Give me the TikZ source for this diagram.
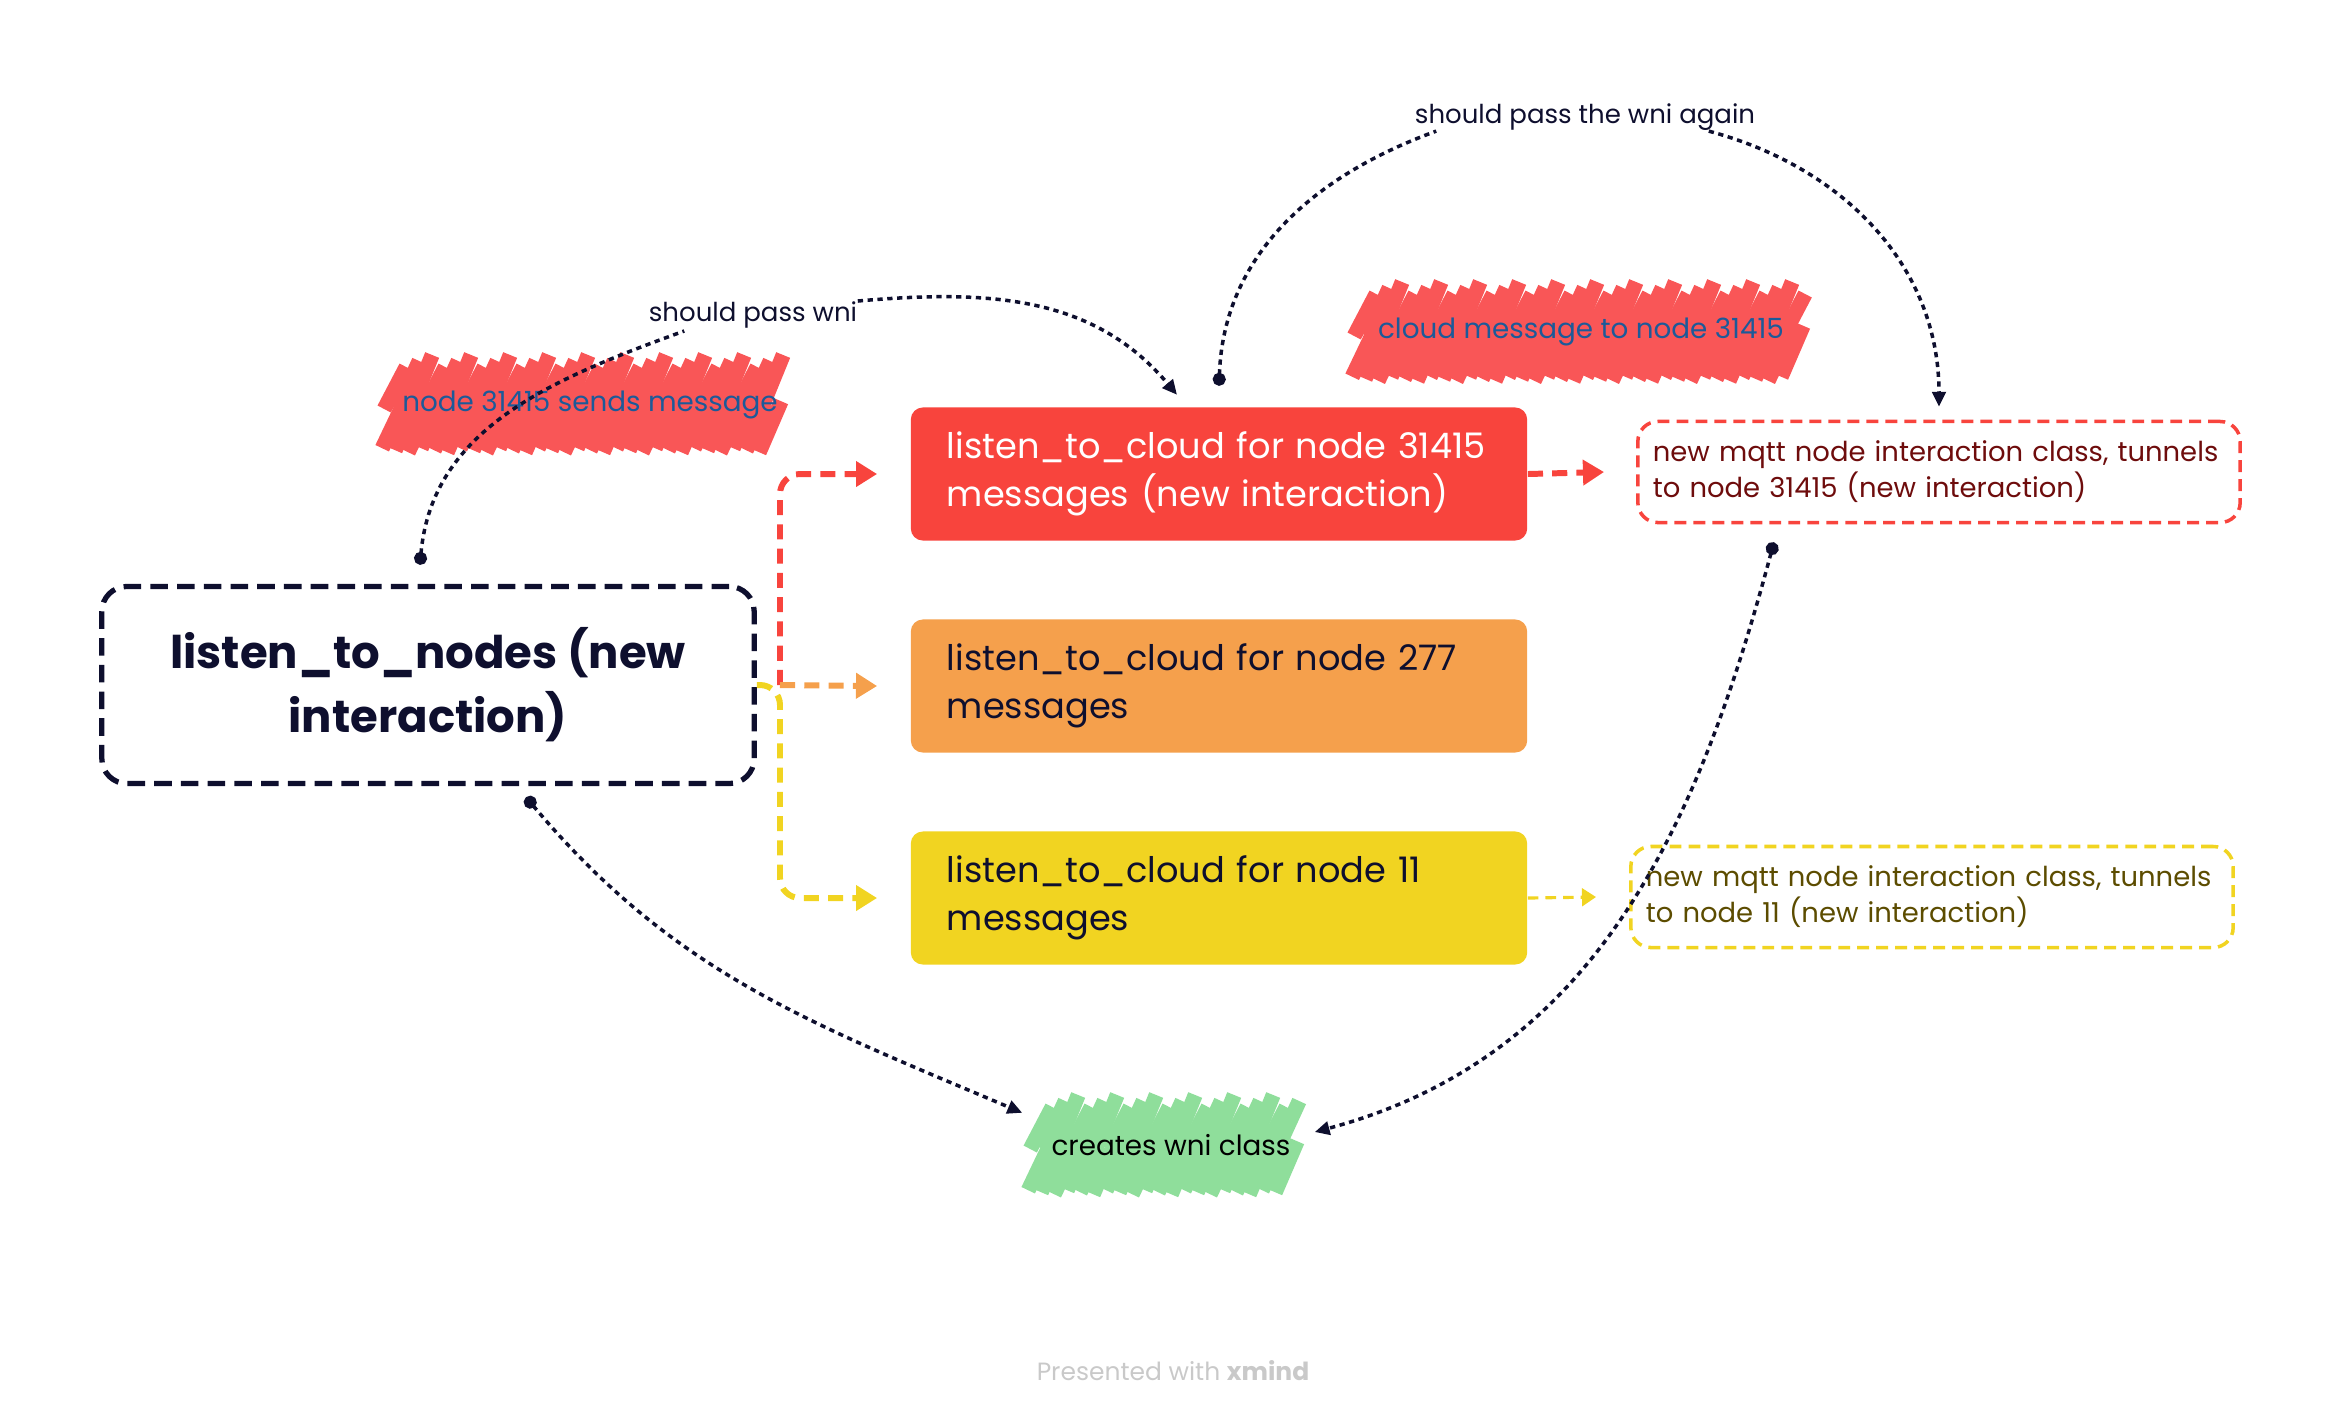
\documentclass[tikz,border=0pt]{standalone}
\usepackage{fontspec}
\setmainfont{Poppins}
\usetikzlibrary{arrows.meta,positioning,calc,backgrounds}

\definecolor{ink}{HTML}{0E0F2E}
\definecolor{cloudred}{HTML}{F8443D}
\definecolor{cloudorange}{HTML}{F5A04C}
\definecolor{cloudyellow}{HTML}{F1D421}
\definecolor{tunnelred}{HTML}{6E0C0C}
\definecolor{tunnelolive}{HTML}{5C4C00}
\definecolor{markred}{HTML}{F95657}
\definecolor{markblue}{HTML}{1C5A99}
\definecolor{markgreen}{HTML}{8FDE9B}
\definecolor{footgray}{HTML}{C9C9C9}

\tikzset{
  mainbox/.style={draw=ink, line width=1.5pt, dash pattern=on 5pt off 2.6pt,
    rounded corners=2.5mm, minimum width=6.52cm, minimum height=1.97cm,
    align=center, text=ink, font=\bfseries\fontsize{12.8}{18.2}\selectfont},
  cloudbox/.style={fill=#1, rounded corners=1.2mm, minimum width=6.16cm,
    minimum height=1.33cm, text width=5.44cm, inner xsep=3.6mm, align=left,
    font=\fontsize{10}{13.7}\selectfont},
  tunnelbox/.style={draw=#1, line width=1pt, dash pattern=on 3.4pt off 2pt,
    rounded corners=2mm, minimum width=6.02cm, minimum height=1.01cm,
    text width=5.72cm, inner xsep=1.5mm, align=left,
    font=\fontsize{7.8}{10.2}\selectfont},
  marker/.style={minimum width=#1, inner sep=0pt,
    font=\fontsize{7.9}{10}\selectfont},
  note/.style={inner sep=0pt, text=ink, font=\fontsize{7.4}{9}\selectfont},
  branch/.style={draw=#1, line width=1.7pt, dash pattern=on 4.3pt off 2.6pt,
    -{Triangle[length=6pt,width=7pt]}},
  relation/.style={draw=ink, line width=1pt, dash pattern=on 1.5pt off 1.3pt},
  relfrom/.style={relation, {Circle[length=3.7pt]}-},
  relto/.style={relation, -{Triangle[length=4.2pt,width=3.8pt]}},
  rellink/.style={relation, {Circle[length=3.7pt]}-{Triangle[length=4.2pt,width=3.8pt]}},
}

% hand drawn highlight behind a marker node
\newcommand{\hatchmark}[3]{%
  \begin{scope}[on background layer]
    \foreach \k in {0,...,#2}{
      \draw[#3, line width=1.5mm] ($(#1.south west)+({13*\k-2},{-2*mod(\k,3)})$) -- ++(22,{46+5*mod(\k,2)});
      \draw[#3, line width=1.5mm] ($(#1.west)+({13*\k},-4)$) -- ++(22,{42+6*mod(\k,3)});
    }
  \end{scope}}

\begin{document}
\begin{tikzpicture}[x=0.01cm,y=0.01cm]
  \useasboundingbox (0,0) rectangle (2342,-1420);

  % topics
  \node[mainbox] (nodes) at (428,-685) {listen\_to\_nodes (new\\interaction)};
  \node[cloudbox=cloudred, text=white] (cloud31415) at (1219,-474)
    {listen\_to\_cloud for node 31415\\messages (new interaction)};
  \node[cloudbox=cloudorange, text=ink] (cloud277) at (1219,-686)
    {listen\_to\_cloud for node 277\\messages};
  \node[cloudbox=cloudyellow, text=ink] (cloud11) at (1219,-898)
    {listen\_to\_cloud for node 11\\messages};
  \node[tunnelbox=cloudred, text=tunnelred] (tunnel31415) at (1939,-472)
    {new mqtt node interaction class, tunnels\\to node 31415 (new interaction)};
  \node[tunnelbox=cloudyellow, text=tunnelolive] (tunnel11) at (1932,-897)
    {new mqtt node interaction class, tunnels\\to node 11 (new interaction)};

  % markers
  \node[marker=4.1cm, minimum height=0.85cm, text=markblue] (sends) at (590,-405)
    {node 31415 sends message};
  \hatchmark{sends}{29}{markred}
  \node[marker=4.52cm, minimum height=0.88cm, text=markblue] (cloudmsg) at (1581,-332)
    {cloud message to node 31415};
  \hatchmark{cloudmsg}{33}{markred}
  \node[marker=2.8cm, minimum height=0.89cm, text=black] (creates) at (1171,-1145)
    {creates wni class};
  \hatchmark{creates}{19}{markgreen}

  \node[note] (passwni) at (753,-315) {should pass wni};
  \node[note] (passagain) at (1585,-117) {should pass the wni again};

  % branches
  \coordinate (fork) at (780,-685);
  \draw[branch=cloudyellow, rounded corners=2mm] (nodes.east) -- (fork) |- ([xshift=-3.3mm]cloud11.west);
  \draw[branch=cloudred, rounded corners=2mm] (fork) |- ([xshift=-3.3mm]cloud31415.west);
  \draw[branch=cloudorange] (fork) -- ([xshift=-3.3mm]cloud277.west);
  \draw[branch=cloudred] (cloud31415.east) -- ([xshift=-3.2mm]tunnel31415.west);
  \draw[branch=cloudyellow, line width=0.9pt, dash pattern=on 3pt off 2pt,
    -{Triangle[length=4pt,width=5pt]}] (cloud11.east) -- ([xshift=-3.3mm]tunnel11.west);

  % relationships
  \draw[relfrom] ([xshift=-0.8mm,yshift=1.9mm]nodes.north) to[out=85,in=-160] ([xshift=3.6mm,yshift=-0.2mm]passwni.south west);
  \draw[relto] (passwni.north east) to[out=5,in=130] ([xshift=-4.2mm,yshift=1.2mm]cloud31415.north);
  \draw[relfrom] ([yshift=2.1mm]cloud31415.north) to[out=88,in=-160] ([xshift=2.2mm]passagain.south west);
  \draw[relto] ([xshift=-4.7mm]passagain.south east) to[out=-15,in=90] ([yshift=1.3mm]tunnel31415.north);
  \draw[rellink] ([xshift=-16.5mm,yshift=-1.8mm]tunnel31415.south) to[out=-105,in=15] ([xshift=0.3mm,yshift=1.3mm]creates.east);
  \draw[rellink] ([xshift=9.8mm,yshift=-1.1mm]nodes.south) to[out=-50,in=157] ([xshift=-0.8mm,yshift=-1.3mm]creates.north west);

  \node[text=footgray, font=\fontsize{7.1}{9}\selectfont] (footer) at (1173,-1371)
    {Presented with \textbf{xmind}};
\end{tikzpicture}
\end{document}
